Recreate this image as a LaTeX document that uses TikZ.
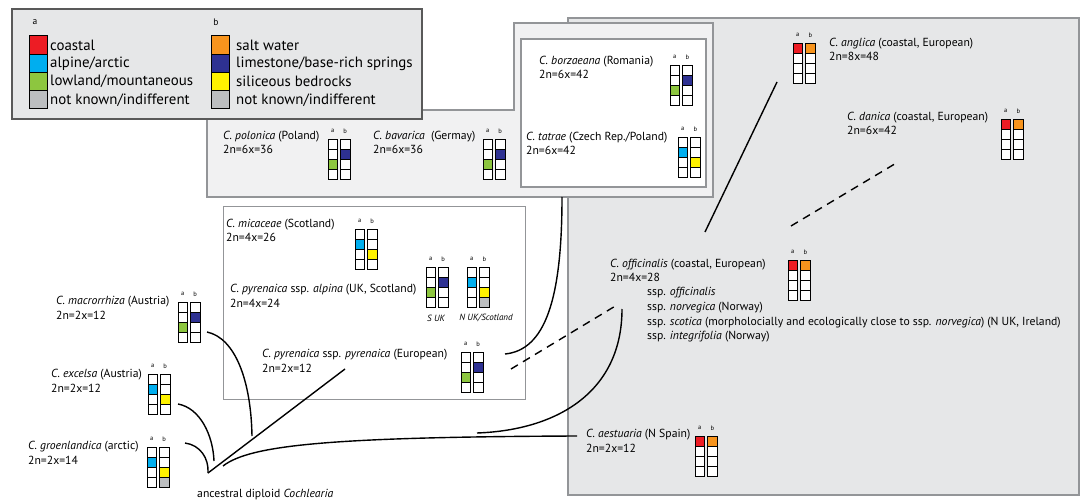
\documentclass[tikz,border=0pt]{standalone}
\usepackage{fontspec}
\setmainfont{PT Sans}
\usetikzlibrary{positioning}
\definecolor{cR}{HTML}{ED1C24}
\definecolor{cC}{HTML}{00AEEF}
\definecolor{cG}{HTML}{8DC63F}
\definecolor{cN}{HTML}{BCBEC0}
\definecolor{cO}{HTML}{F7941D}
\definecolor{cB}{HTML}{2E3192}
\definecolor{cY}{HTML}{FFF200}
\definecolor{bxg}{HTML}{E6E7E8}
\definecolor{bxl}{HTML}{F1F1F2}
\definecolor{bxe}{HTML}{939598}
\tikzset{
  sp/.style = {anchor=west, align=left, inner sep=0pt,
    font=\fontsize{11.7}{14.7}\selectfont},
  abl/.style = {inner sep=0pt, font=\fontsize{6.5}{6.5}\selectfont},
  lgt/.style = {anchor=west, inner sep=0pt, font=\fontsize{14.9}{14.9}\selectfont},
  cel/.style = {draw=black, line width=0.8pt},
  lg/.style = {draw=black!65, fill=bxg, line width=1.2pt},
  gbx/.style = {draw=bxe, fill=bxg, line width=1.5pt},
  lbx/.style = {draw=bxe, fill=bxl, line width=1.5pt},
  wbx/.style = {draw=bxe, fill=white, line width=1.5pt},
  mbx/.style = {draw=bxe, fill=white, line width=1pt},
  ln/.style = {draw=black, line width=1.4pt},
  dln/.style = {ln, dash pattern=on 8pt off 6pt}
}
\newcommand{\charbox}[5]{%
  \node [abl] (#1-a) at (#2+4.75,#3-8) {a};
  \node [abl] (#1-b) at (#2+17.25,#3-8) {b};
  \foreach \c [count=\i] in {#4}
    \draw [cel, fill=\c] (#2,#3+10*\i-10) rectangle ++(9.5,10);
  \foreach \c [count=\i] in {#5}
    \draw [cel, fill=\c] (#2+12.5,#3+10*\i-10) rectangle ++(9.5,10);
}

\begin{document}
\begin{tikzpicture}[x=1pt, y=-1pt]
  \useasboundingbox [fill=white] (0,0) rectangle (1085,500);
  \draw [gbx] (568,18) rectangle (1079,495);
  \draw [lbx] (207,110) -- (514,110) -- (514,23) -- (713,23) -- (713,197)
    -- (207,197) -- cycle;
  \draw [wbx] (521,39) rectangle (706,187);
  \draw [mbx] (223,207) rectangle (525,399);
  \draw [lg] (12,9) rectangle (422,119);

  \node [abl, font=\fontsize{9.5}{9.5}\selectfont] (lg-a) at (35,22) {a};
  \node [abl, font=\fontsize{9.5}{9.5}\selectfont] (lg-b) at (216,22) {b};
  \foreach \c/\t [count=\i] in {cR/{coastal}, cC/{alpine/arctic},
      cG/{lowland/mountaneous}, cN/{not known/indifferent}} {
    \draw [cel, line width=1pt, fill=\c] (29,36+18.25*\i-18.25) rectangle ++(18,18.25);
    \node [lgt] (lga\i) at (50,45.1+18.25*\i-18.25) {\t};
  }
  \foreach \c/\t [count=\i] in {cO/{salt water}, cB/{limestone/base-rich springs},
      cY/{siliceous bedrocks}, cN/{not known/indifferent}} {
    \draw [cel, line width=1pt, fill=\c] (211,36+18.25*\i-18.25) rectangle ++(18,18.25);
    \node [lgt] (lgb\i) at (236,45.1+18.25*\i-18.25) {\t};
  }

  \coordinate (anc) at (208,473);
  \coordinate (gr-e) at (185,443);
  \coordinate (ex-e) at (178,404);
  \coordinate (ex-j) at (214,461);
  \coordinate (mr-e) at (207,332);
  \coordinate (mr-j) at (252,436);
  \coordinate (pp-e) at (345,369);
  \coordinate (ae-s) at (223,466);
  \coordinate (ae-e) at (577,436);
  \coordinate (of-s) at (622,309);
  \coordinate (of-j) at (477,433);
  \coordinate (pp-r) at (505,354);
  \coordinate (tg-b) at (562,197);
  \coordinate (pp-d) at (511,369);
  \coordinate (of-d) at (617,305);
  \coordinate (of-t) at (705,232);
  \coordinate (an-e) at (777,82);
  \coordinate (of-u) at (791,226);
  \coordinate (da-e) at (898,162);

  \draw [ln] (gr-e) .. controls (200,445) and (209,458) .. (anc);
  \draw [ln] (ex-e) .. controls (200,408) and (213,435) .. (ex-j);
  \draw [ln] (mr-e) .. controls (235,338) and (251,380) .. (mr-j);
  \draw [ln] (anc) -- (pp-e);
  \draw [ln] (ae-s) .. controls (250,445) and (330,437) .. (ae-e);
  \draw [ln] (of-s) .. controls (622,390) and (560,430) .. (of-j);
  \draw [ln] (pp-r) .. controls (545,350) and (562,300) .. (tg-b);
  \draw [dln] (pp-d) -- (of-d);
  \draw [ln] (of-t) -- (an-e);
  \draw [dln] (of-u) -- (da-e);

  \node [sp] (polonica) at (223,142.5) {\textit{C. polonica} (Poland)\\2n=6x=36};
  \node [sp] (bavarica) at (373,142.5) {\textit{C. bavarica}\ \ (Germay)\\2n=6x=36};
  \node [sp] (borzaeana) at (539,67.5) {\textit{C. borzaeana} (Romania)\\2n=6x=42};
  \node [sp] (tatrae) at (526,143.5) {\textit{C. tatrae} (Czech Rep./Poland)\\2n=6x=42};
  \node [sp] (anglica) at (829,49.5) {\textit{C. anglica} (coastal, European)\\2n=8x=48};
  \node [sp] (danica) at (847,123.5) {\textit{C. danica} (coastal, European)\\2n=6x=42};
  \node [sp] (micaceae) at (226,230.5) {\textit{C. micaceae} (Scotland)\\2n=4x=26};
  \node [sp] (alpina) at (230,296) {\textit{C. pyrenaica} ssp. \textit{alpina} (UK, Scotland)\\2n=4x=24};
  \node [sp] (pyrenaica) at (262,360.5) {\textit{C. pyrenaica} ssp. \textit{pyrenaica} (European)\\2n=2x=12};
  \node [sp] (macrorrhiza) at (56,308) {\textit{C. macrorrhiza} (Austria)\\2n=2x=12};
  \node [sp] (excelsa) at (51,381) {\textit{C. excelsa} (Austria)\\2n=2x=12};
  \node [sp] (groenlandica) at (28,452.5) {\textit{C. groenlandica} (arctic)\\2n=2x=14};
  \node [sp] (officinalis) at (610,270.5) {\textit{C. officinalis} (coastal, European)\\2n=4x=28};
  \node [sp] (sspp) at (647,315) {ssp. \textit{officinalis}\\ssp. \textit{norvegica} (Norway)\\ssp. \textit{scotica} (morpholocially and ecologically close to ssp. \textit{norvegica}) (N UK, Ireland)\\ssp. \textit{integrifolia} (Norway)};
  \node [sp] (aestuaria) at (586,441) {\textit{C. aestuaria} (N Spain)\\2n=2x=12};
  \node [sp] (ancestor) at (197,495) {ancestral diploid \textit{Cochlearia}};

  \charbox{pol}{328}{139}{white,white,cG,white}{white,cB,white,white}
  \charbox{bav}{483}{139}{white,white,cG,white}{white,cB,white,white}
  \charbox{bor}{670}{65}{white,white,cG,white}{white,cB,white,white}
  \charbox{tat}{678}{137}{white,cC,white,white}{white,white,cY,white}
  \charbox{ang}{793}{43}{cR,white,white,white}{cO,white,white,white}
  \charbox{dan}{1001}{119}{cR,white,white,white}{cO,white,white,white}
  \charbox{mic}{355}{229}{white,cC,white,white}{white,white,cY,white}
  \charbox{suk}{426}{267}{white,white,cG,white}{white,cB,white,white}
  \charbox{nuk}{467}{267}{white,cC,white,white}{white,white,cY,cN}
  \charbox{pyr}{461}{352}{white,white,cG,white}{white,cB,white,white}
  \charbox{mac}{178}{302}{white,white,cG,white}{white,cB,white,white}
  \charbox{exc}{148}{374}{white,cC,white,white}{white,white,cY,white}
  \charbox{gro}{147}{447}{white,cC,white,white}{white,white,cY,cN}
  \charbox{off}{788}{260}{cR,white,white,white}{cO,white,white,white}
  \charbox{aes}{695}{436}{cR,white,white,white}{cO,white,white,white}

  \node [abl, font=\fontsize{9}{9}\itshape] (suk-l) at (436,318) {S UK};
  \node [abl, font=\fontsize{9}{9}\itshape] (nuk-l) at (486,318) {N UK/Scotland};
\end{tikzpicture}
\end{document}
